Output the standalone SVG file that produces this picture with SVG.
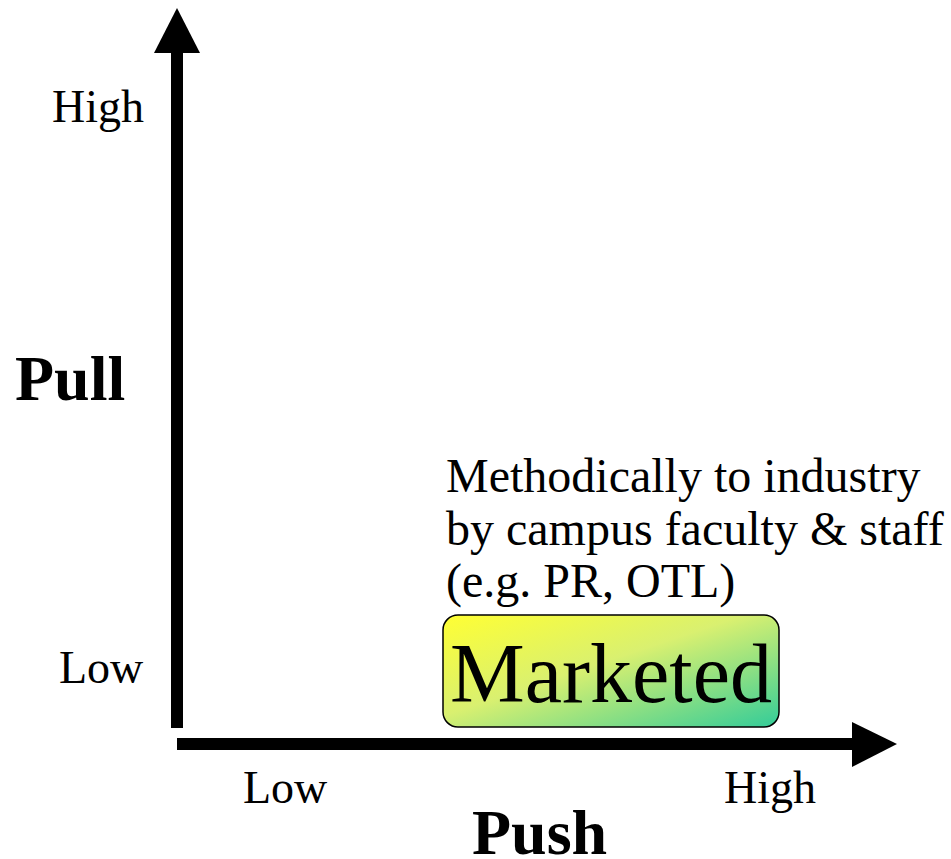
<svg xmlns="http://www.w3.org/2000/svg" width="951" height="859" viewBox="0 0 951 859">
<defs>
<linearGradient id="g" x1="0" y1="0" x2="1" y2="1">
<stop offset="0" stop-color="#ffff33"/>
<stop offset="0.45" stop-color="#d9f070"/>
<stop offset="1" stop-color="#33cc99"/>
</linearGradient>
<style>
text{font-family:"Liberation Serif","Times New Roman",serif;fill:#000}
.lbl{font-size:46px}
.desc{font-size:48px}
.ax{font-size:64px;font-weight:bold}
</style>
</defs>
<rect width="951" height="859" fill="#fff"/>
<g id="connectors">
<rect x="171" y="50" width="12" height="678" fill="#000"/>
<polygon points="177,8 154,53 200,53" fill="#000"/>
<rect x="177" y="738" width="678" height="12" fill="#000"/>
<polygon points="897,744 852,722 852,767" fill="#000"/>
</g>
<g id="labels">
<text class="lbl" x="52" y="122">High</text>
<text class="lbl" x="59" y="683">Low</text>
<text class="ax" x="15" y="400">Pull</text>
<text class="lbl" x="243" y="803">Low</text>
<text class="lbl" x="724" y="803">High</text>
<text class="ax" x="472" y="854">Push</text>
</g>
<g id="desc">
<text class="desc" x="446" y="492">Methodically to industry</text>
<text class="desc" x="446" y="545">by campus faculty &amp; staff</text>
<text class="desc" x="446" y="597">(e.g. PR, OTL)</text>
</g>
<g id="marketed">
<rect x="443" y="615" width="336" height="112" rx="15" ry="15" fill="url(#g)" stroke="#000" stroke-width="1.5"/>
<text x="611" y="702" font-size="84" text-anchor="middle">Marketed</text>
</g>
</svg>
